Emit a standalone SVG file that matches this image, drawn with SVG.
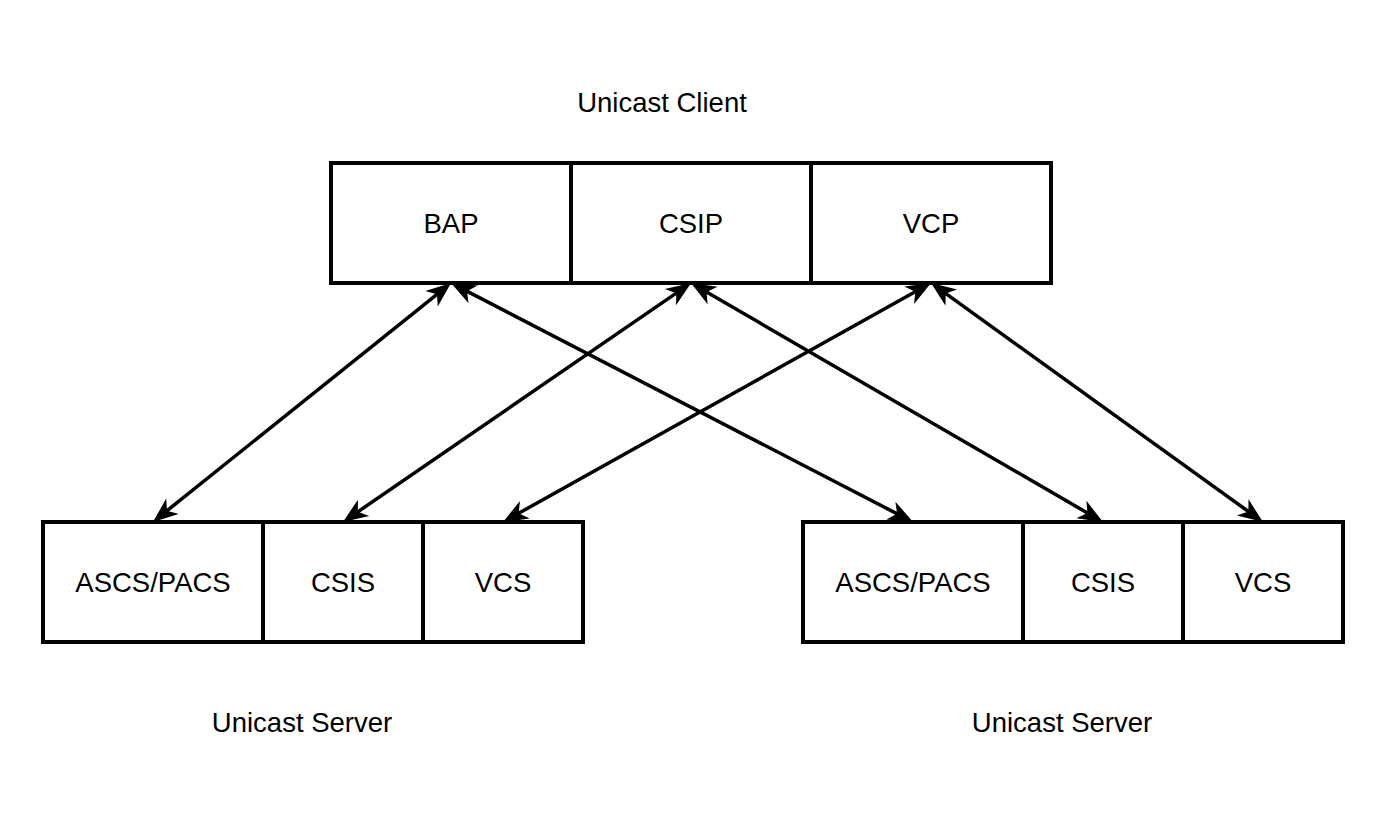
<svg xmlns="http://www.w3.org/2000/svg" width="1384" height="824" viewBox="0 0 1384 824">
<style>
.box{fill:#fff;stroke:#000;stroke-width:4}
.div{stroke:#000;stroke-width:4}
.t{font-family:"Liberation Sans",Arial,sans-serif;font-size:27.5px;fill:#000;text-anchor:middle}
.c{stroke:#000;stroke-width:3.5;fill:none;marker-start:url(#ah);marker-end:url(#ah)}
</style>
<defs>
<marker id="ah" markerUnits="userSpaceOnUse" viewBox="-28 -12 28 24" markerWidth="28" markerHeight="24" refX="-14" refY="0" orient="auto-start-reverse">
<path d="M0,0 L-25,-10 L-18,0 L-25,10 Z" fill="#000"/>
</marker>
</defs>
<rect width="1384" height="824" fill="#fff"/>
<text class="t" x="662" y="112">Unicast Client</text>
<text class="t" x="302" y="732">Unicast Server</text>
<text class="t" x="1062" y="732">Unicast Server</text>
<g id="client">
<rect class="box" x="331" y="163" width="720" height="120"/>
<line class="div" x1="571" y1="163" x2="571" y2="283"/>
<line class="div" x1="811" y1="163" x2="811" y2="283"/>
<text class="t" x="451" y="233">BAP</text>
<text class="t" x="691" y="233">CSIP</text>
<text class="t" x="931" y="233">VCP</text>
</g>
<g id="server-left">
<rect class="box" x="43" y="522" width="540" height="120"/>
<line class="div" x1="263" y1="522" x2="263" y2="642"/>
<line class="div" x1="423" y1="522" x2="423" y2="642"/>
<text class="t" x="153" y="592">ASCS/PACS</text>
<text class="t" x="343" y="592">CSIS</text>
<text class="t" x="503" y="592">VCS</text>
</g>
<g id="server-right">
<rect class="box" x="803" y="522" width="540" height="120"/>
<line class="div" x1="1023" y1="522" x2="1023" y2="642"/>
<line class="div" x1="1183" y1="522" x2="1183" y2="642"/>
<text class="t" x="913" y="592">ASCS/PACS</text>
<text class="t" x="1103" y="592">CSIS</text>
<text class="t" x="1263" y="592">VCS</text>
</g>
<g id="connectors">
<line class="c" x1="440.1" y1="291.8" x2="163.9" y2="513.2"/>
<line class="c" x1="463.4" y1="289.4" x2="900.6" y2="515.6"/>
<line class="c" x1="679.5" y1="290.9" x2="354.5" y2="514.1"/>
<line class="c" x1="703.1" y1="290.0" x2="1090.9" y2="515.0"/>
<line class="c" x1="918.8" y1="289.8" x2="515.2" y2="515.2"/>
<line class="c" x1="942.4" y1="291.2" x2="1251.6" y2="513.8"/>
</g>
</svg>
